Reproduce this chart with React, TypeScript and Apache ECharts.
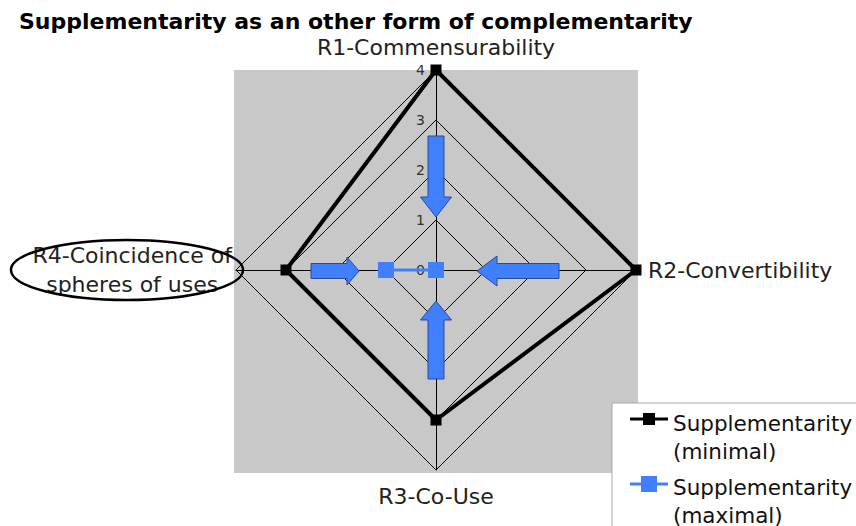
import React, { useEffect, useRef } from 'react';
import * as echarts from 'echarts';

// Axes in reading order (R1 top, R2 right, R3 bottom, R4 left)
const categories = ['R1-Commensurability', 'R2-Convertibility', 'R3-Co-Use', 'R4-Coincidence of\nspheres of uses'];
const minimalValues = [4, 4, 3, 3];
const maximalValues = [0, 0, 0, 1];
const tickValues = [0, 1, 2, 3, 4];
const seriesNames = ['Supplementarity (minimal)', 'Supplementarity (maximal)'];
const titleText = 'Supplementarity as an other form of complementarity';

const FONT = 'DejaVu Sans, Verdana, sans-serif';
const CX = 436;
const CY = 270;
const R = 200;
const MAX = 4;
const BLUE = '#4080ff';

// ECharts lays radar indicators out counter-clockwise from the top
const order = [0, 3, 2, 1];

function arrow(tail: number, tip: number, axis: 'x' | 'y', sw: number, hw: number, hl: number) {
  const dir = Math.sign(tip - tail);
  const base = tip - dir * hl;
  const off = axis === 'x' ? CY + 1 : CX;
  const pts: number[][] = [
    [tail, off - sw / 2],
    [base, off - sw / 2],
    [base, off - hw / 2],
    [tip, off],
    [base, off + hw / 2],
    [base, off + sw / 2],
    [tail, off + sw / 2],
  ];
  const points = axis === 'x' ? pts : pts.map(([a, b]) => [b, a]);
  return {
    type: 'polygon',
    z: 20,
    shape: { points },
    style: { fill: BLUE, stroke: '#2a4a90', lineWidth: 1 },
  };
}

export default function App() {
  const ref = useRef<HTMLDivElement>(null);
  useEffect(() => {
    if (!ref.current) return;
    const chart = echarts.init(ref.current, undefined, { renderer: 'svg' });
    const u = R / MAX;
    const legendIcon = (sq: number) =>
      `path://M0,12.5H${19 - sq / 2}V${14 - sq / 2}H${19 + sq / 2}V12.5H38V15.5H${19 + sq / 2}V${14 + sq / 2}H${19 - sq / 2}V15.5H0ZM0,55.9H0.1V56H0Z`;
    const tickLabelStyle = {
      rotate: 0,
      margin: 11,
      fontFamily: FONT,
      fontSize: 14,
      color: '#333',
      formatter: (v: number) => (tickValues.includes(v) ? String(v) : ''),
    };
    chart.setOption({
      animation: false,
      backgroundColor: '#fff',
      title: {
        text: titleText,
        left: 14,
        top: 5,
        textStyle: { fontFamily: FONT, fontSize: 22, fontWeight: 'bold', color: '#000' },
      },
      legend: {
        orient: 'vertical',
        left: 612,
        top: 403,
        height: 400,
        padding: [6, 40, 40, 18],
        backgroundColor: '#fff',
        borderColor: '#a8a8a8',
        borderWidth: 1,
        itemWidth: 38,
        itemHeight: 56,
        itemGap: 8,
        formatter: (n: string) => n.replace(' (', '\n('),
        textStyle: { fontFamily: FONT, fontSize: 21.5, color: '#111', lineHeight: 28 },
        data: [
          { name: seriesNames[0], icon: legendIcon(12) },
          { name: seriesNames[1], icon: legendIcon(16) },
        ],
      },
      radar: {
        center: [CX, CY],
        radius: R,
        shape: 'polygon',
        splitNumber: 4,
        startAngle: 90,
        nameGap: 12,
        indicator: order.map((i) => ({
          name: categories[i],
          min: 0,
          max: MAX,
          ...(i === 0 ? { axisLabel: { show: true, ...tickLabelStyle } } : {}),
        })),
        axisName: {
          color: '#222',
          fontFamily: FONT,
          fontSize: 22,
          formatter: (name: string) =>
            name.includes('\n')
              ? name.split('\n').map((s) => `{c|${s}}`).join('\n')
              : name === categories[2]
              ? `{b|${name}}`
              : name,
          rich: {
            c: {
              align: 'center',
              color: '#222',
              fontFamily: FONT,
              fontSize: 22,
              lineHeight: 29,
              padding: [0, -8, 0, 0],
            },
            b: {
              color: '#222',
              fontFamily: FONT,
              fontSize: 22,
              padding: [3, 0, 0, 0],
            },
          },
        },
        axisLine: { lineStyle: { color: '#000', width: 1 } },
        splitLine: { lineStyle: { color: '#000', width: 1 } },
        splitArea: { show: false },
        axisTick: { show: false },
        axisLabel: { show: false, ...tickLabelStyle },
      },
      series: [
        {
          type: 'radar',
          z: 5,
          data: [
            {
              name: seriesNames[0],
              value: order.map((i) => minimalValues[i]),
              symbol: 'rect',
              symbolSize: 11,
              lineStyle: { color: '#000', width: 4 },
              itemStyle: { color: '#000' },
            },
          ],
        },
        {
          type: 'radar',
          z: 6,
          data: [
            {
              name: seriesNames[1],
              value: order.map((i) => maximalValues[i]),
              symbol: 'rect',
              symbolSize: 16,
              lineStyle: { color: BLUE, width: 3 },
              itemStyle: { color: BLUE },
            },
          ],
        },
      ],
      graphic: [
        {
          type: 'rect',
          z: -10,
          shape: { x: CX - R - 2, y: CY - R, width: 2 * R + 4, height: 2 * R + 3 },
          style: { fill: '#c8c8c8' },
        },
        arrow(CY - 2.68 * u, CY - 1.06 * u, 'y', 16, 31, 20),
        arrow(CX + 2.46 * u, CX + 0.82 * u, 'x', 15, 30, 20),
        arrow(CY + 2.18 * u, CY + 0.62 * u, 'y', 16, 31, 19),
        arrow(CX - 2.5 * u, CX - 1.54 * u, 'x', 15, 28, 12),
        {
          type: 'ellipse',
          z: 30,
          shape: { cx: 127, cy: 270, rx: 116, ry: 30 },
          style: { fill: 'none', stroke: '#000', lineWidth: 2.5 },
        },
      ],
    });
    return () => chart.dispose();
  }, []);
  return <div ref={ref} style={{ position: 'fixed', left: 0, top: 0, width: 856, height: 526 }} />;
}
